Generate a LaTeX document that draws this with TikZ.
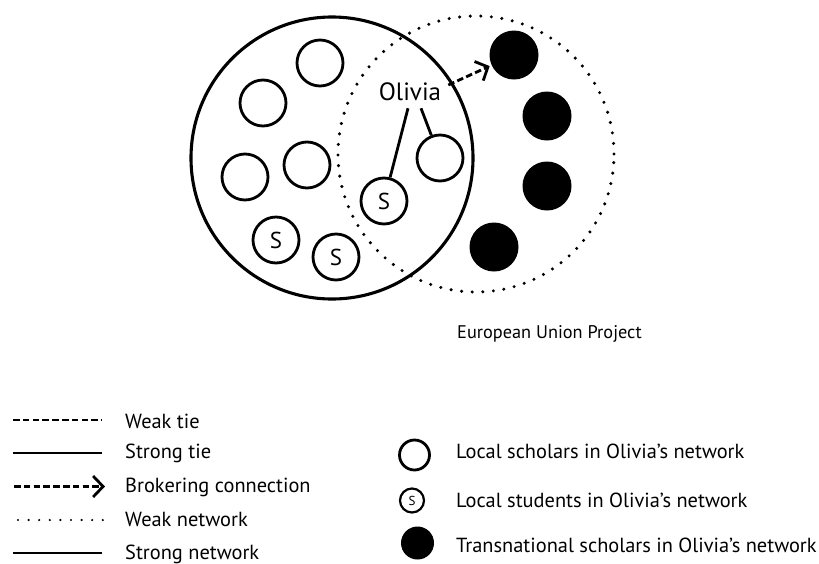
\documentclass[tikz,border=0pt]{standalone}
\usepackage{fontspec}
\setmainfont{PT Sans}
\usetikzlibrary{arrows.meta}
\tikzset{
  scholar/.style={circle,draw,line width=2.8pt,minimum size=46pt,inner sep=0pt},
  student/.style={scholar,font=\fontsize{23}{25}\selectfont},
  transnational/.style={circle,fill=black,minimum size=49pt,inner sep=0pt},
  strongtie/.style={line width=2.8pt},
  weaktie/.style={line width=2.8pt,dash pattern=on 6.5pt off 3.3pt},
  broker/.style={weaktie,-{Straight Barb[length=10pt,width=21pt]}},
  weaknet/.style={line width=3.4pt,line cap=round,dash pattern=on 0pt off 10.6pt},
  strongnet/.style={line width=3.1pt},
  legendtext/.style={anchor=base west,inner sep=0pt}
}
\begin{document}
\begin{tikzpicture}[x=1pt,y=-1pt,font=\fontsize{20.4}{24}\selectfont]
\useasboundingbox (0,0) rectangle (819,563);
% the two networks
\node[strongnet,circle,draw,minimum size=282pt] (local) at (332,158) {};
\node[weaknet,circle,draw,minimum size=276pt] (eu) at (476,154) {};
\node[legendtext,font=\fontsize{18.3}{22}\selectfont] (euproject) at (457,338) {European Union Project};
% local scholars
\node[scholar] (l1) at (320,63) {};
\node[scholar] (l2) at (263,103) {};
\node[scholar] (l3) at (245,177) {};
\node[scholar] (l4) at (307,165) {};
\node[scholar] (l5) at (440,158) {};
% local students
\node[student] (s1) at (276,240) {S};
\node[student] (s2) at (336,257) {S};
\node[student] (s3) at (384,201) {S};
% transnational scholars
\node[transnational] (t1) at (514,55) {};
\node[transnational] (t2) at (547,116) {};
\node[transnational] (t3) at (547,186) {};
\node[transnational] (t4) at (494,247) {};
% Olivia and her ties
\node[font=\fontsize{25}{28}\selectfont,inner sep=7pt] (olivia) at (410,92) {Olivia};
\draw[strongtie] ([xshift=-2pt]olivia.south) -- (s3);
\draw[strongtie] ([xshift=11pt]olivia.south) -- (l5);
\draw[broker,shorten >=2pt] ([yshift=7pt]olivia.east) -- (t1);

% legend, lines
\coordinate (wt1) at (13,420); \coordinate (wt2) at (102,420);
\draw[weaktie] (wt1) -- (wt2);
\node[legendtext] (wtlabel) at (125,428) {Weak tie};
\coordinate (st1) at (13,453); \coordinate (st2) at (102,453);
\draw[strongtie] (st1) -- (st2);
\node[legendtext] (stlabel) at (125,458) {Strong tie};
\coordinate (br1) at (14,486.5); \coordinate (br2) at (105,486.5);
\draw[broker] (br1) -- (br2);
\node[legendtext] (brlabel) at (125,492) {Brokering connection};
\coordinate (wn1) at (18,520); \coordinate (wn2) at (103,520);
\draw[weaknet,line width=2.4pt] (wn1) -- (wn2);
\node[legendtext] (wnlabel) at (125,526) {Weak network};
\coordinate (sn1) at (13,553); \coordinate (sn2) at (102,553);
\draw[strongnet,line width=2.8pt] (sn1) -- (sn2);
\node[legendtext] (snlabel) at (125,559) {Strong network};

% legend, people
\node[scholar,minimum size=30pt] (lkscholar) at (414.5,455) {};
\node[legendtext] (lkscholarlabel) at (456,458) {Local scholars in Olivia’s network};
\node[scholar,minimum size=24pt,line width=2.2pt,font=\fontsize{13}{15}\selectfont] (lkstudent) at (412,500.5) {S};
\node[legendtext] (lkstudentlabel) at (456,507) {Local students in Olivia’s network};
\node[transnational,minimum size=33pt] (lktrans) at (417.5,543) {};
\node[legendtext] (lktranslabel) at (456,552) {Transnational scholars in Olivia’s network};
\end{tikzpicture}
\end{document}
